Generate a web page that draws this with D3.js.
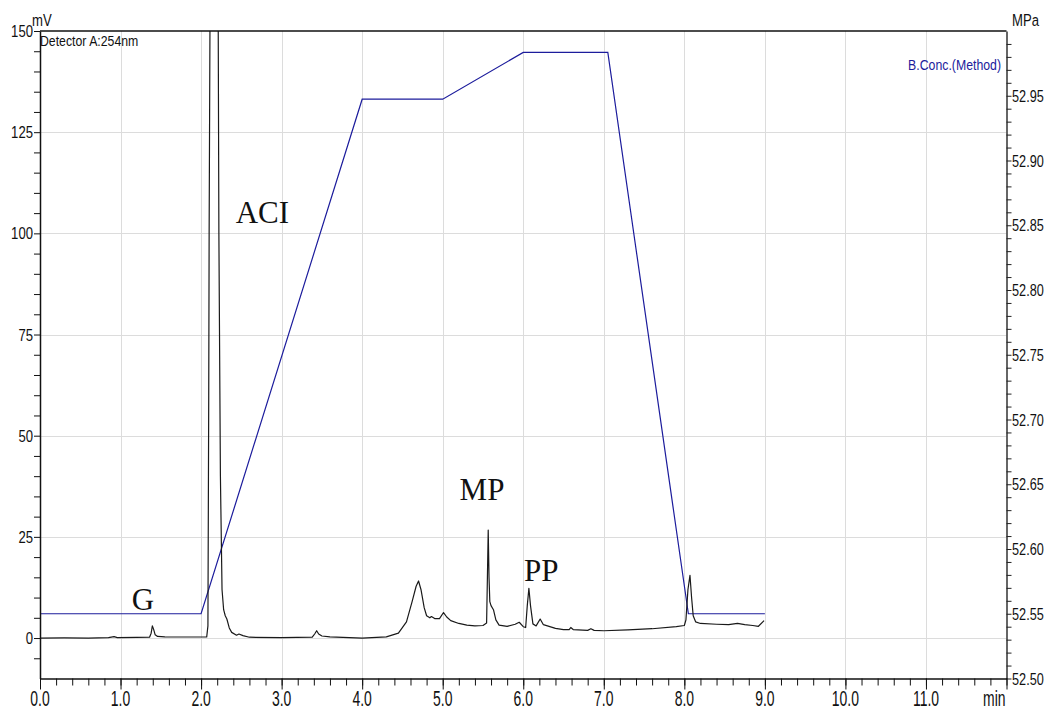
<!DOCTYPE html>
<html>
<head>
<meta charset="utf-8">
<script src="https://cdn.jsdelivr.net/npm/d3@7"></script>
<style>
html,body{margin:0;padding:0;background:#fff;}
svg{display:block;}
</style>
</head>
<body>
<svg id="chart" width="1050" height="713"></svg>
<script>
// ---- data ----
const detectorLabel = "Detector A:254nm";
const gradientLabel = "B.Conc.(Method)";
const xTickLabels = ["0.0","1.0","2.0","3.0","4.0","5.0","6.0","7.0","8.0","9.0","10.0","11.0"];
const xUnit = "min";
const yLeftTicks = [0, 25, 50, 75, 100, 125, 150];
const yLeftUnit = "mV";
const yRightTicks = [52.50, 52.55, 52.60, 52.65, 52.70, 52.75, 52.80, 52.85, 52.90, 52.95];
const yRightUnit = "MPa";

// chromatogram (time in min, signal in mV)
const chromTime = [
  0.00,0.30,0.60,0.85,0.92,0.96,1.20,1.36,1.38,1.395,1.41,1.43,1.46,1.55,1.80,2.00,
  2.07,2.085,2.095,2.10,2.11,2.13,2.16,2.19,2.213,2.221,2.24,2.26,2.28,2.30,2.32,2.35,2.38,2.44,2.47,2.52,2.60,
  3.00,3.38,3.41,3.435,3.46,3.50,3.60,4.00,4.30,4.45,4.55,4.62,4.67,4.70,4.73,4.77,4.80,4.84,4.86,4.90,4.96,
  5.01,5.05,5.10,5.20,5.30,5.40,5.50,5.545,5.555,5.565,5.575,5.585,5.60,5.63,5.66,5.70,5.80,5.90,5.95,
  6.00,6.03,6.05,6.07,6.09,6.12,6.16,6.21,6.25,6.30,6.40,6.50,6.57,6.59,6.62,6.80,6.84,6.88,
  7.00,7.30,7.60,7.90,8.00,8.02,8.045,8.07,8.09,8.11,8.14,8.20,8.40,8.55,8.66,8.75,8.85,8.92,8.99
];
const chromSignal = [
  0.0,0.05,0.0,0.1,0.35,0.1,0.15,0.2,1.2,3.0,2.2,0.8,0.4,0.3,0.25,0.25,
  0.3,3,60,100,150,400,700,400,150,100,40,12,7,5.5,4.7,2.5,1.4,0.7,1.0,0.6,0.2,
  0.1,0.2,1.0,1.8,1.0,0.5,0.3,0.0,0.3,1.2,4.0,9,12.8,14.1,12,7.5,5.5,5.0,5.3,4.8,4.8,
  6.3,5.2,4.3,3.6,3.2,3.0,3.1,3.7,15,26.7,15,9,8,7,4.5,3.2,2.9,3.4,3.9,
  2.8,2.6,8,12.3,8,3.5,3.0,4.7,3.3,3.0,2.4,2.1,2.1,2.6,2.1,1.9,2.3,1.9,
  1.8,2.0,2.3,2.8,3.1,4.5,12,15.5,10,5.5,4.0,3.6,3.4,3.3,3.6,3.3,3.1,2.9,4.3
];

// gradient program (time in min, B concentration in %)
const gradTime = [0, 2.0, 4.0, 5.0, 6.0, 7.05, 8.05, 9.0];
const gradConc = [10, 10, 92.5, 92.5, 100, 100, 10, 10];

// peak annotations
const peakNames = ["G", "ACI", "MP", "PP"];
const peakLabelTime = [1.14, 2.43, 5.21, 6.01];
const peakLabelMv = [7.0, 102.5, 34.0, 14.0];

// ---- layout ----
const L = 40, R = 1006.5, T = 31, B = 678.5;
const svg = d3.select("#chart");
const SANS = "'Liberation Sans',Arial,sans-serif";
const SERIF = "'Liberation Serif','Times New Roman',serif";

const x = d3.scaleLinear().domain([0, 12]).range([L, R]);
const y = d3.scaleLinear().domain([-10, 150]).range([B, T]);
const yR = d3.scaleLinear().domain([52.5, 53.0]).range([B, T]);
const yB = d3.scaleLinear().domain([10, 100]).range([y(6.0), y(144.7)]);

// condensed text helper
function narrowText(px, py, str, size, anchor, fill, sy) {
  return svg.append("text")
    .attr("transform", `translate(${px},${py}) scale(0.82,${sy || 1})`)
    .attr("text-anchor", anchor || "start")
    .attr("font-family", SANS).attr("font-size", size)
    .attr("fill", fill || "#111").text(str);
}

// grid
const grid = svg.append("g").attr("stroke", "#dcdcdc").attr("stroke-width", 1);
d3.range(1, 12).forEach(v => {
  grid.append("line").attr("x1", Math.round(x(v)) + 0.5).attr("x2", Math.round(x(v)) + 0.5)
    .attr("y1", T).attr("y2", B);
});
yLeftTicks.filter(v => v < 150).forEach(v => {
  grid.append("line").attr("x1", L).attr("x2", R)
    .attr("y1", Math.round(y(v)) + 0.5).attr("y2", Math.round(y(v)) + 0.5);
});

// clip
svg.append("clipPath").attr("id", "plotclip").append("rect")
  .attr("x", L).attr("y", T).attr("width", R - L).attr("height", B - T);

// gradient line
const gradData = gradTime.map((t, i) => [t, gradConc[i]]);
svg.append("path").datum(gradData)
  .attr("clip-path", "url(#plotclip)")
  .attr("fill", "none").attr("stroke", "#1c1c9c").attr("stroke-width", 1.2)
  .attr("d", d3.line().x(d => x(d[0])).y(d => yB(d[1])));

// chromatogram
const chromData = chromTime.map((t, i) => [t, chromSignal[i]]);
svg.append("path").datum(chromData)
  .attr("clip-path", "url(#plotclip)")
  .attr("fill", "none").attr("stroke", "#1a1a1a").attr("stroke-width", 1.2)
  .attr("stroke-linejoin", "round")
  .attr("d", d3.line().x(d => x(d[0])).y(d => y(d[1])));

// left axis
const leftAx = svg.append("g").attr("transform", `translate(${L},0)`)
  .call(d3.axisLeft(y).tickValues(d3.range(-5, 151, 5)).tickSize(6).tickSizeOuter(0).tickFormat(""));
leftAx.select(".domain").attr("stroke", "#111").attr("stroke-width", 1.5);
leftAx.selectAll(".tick line").attr("stroke", "#111");
yLeftTicks.forEach(v => narrowText(L - 7, y(v) + 6, String(v), 16, "end", "#111", 1.05));

// right axis
const rightAx = svg.append("g").attr("transform", `translate(${R},0)`)
  .call(d3.axisRight(yR).tickValues(d3.range(0, 50).map(i => +(52.5 + i * 0.01).toFixed(2)))
    .tickSize(5).tickSizeOuter(0).tickFormat(""));
rightAx.select(".domain").attr("stroke", "#333").attr("stroke-width", 1.5);
rightAx.selectAll(".tick line").attr("stroke", "#222");
yRightTicks.forEach(v => narrowText(R + 5.5, yR(v) + 6, v.toFixed(2), 15.5, "start", "#111", 1.05));

// bottom axis minor + major
const botMinor = svg.append("g").attr("transform", `translate(0,${B})`)
  .call(d3.axisBottom(x).tickValues(d3.range(0, 61).map(i => i * 0.2)).tickSize(7).tickSizeOuter(0).tickFormat(""));
botMinor.select(".domain").attr("stroke", "#111").attr("stroke-width", 1.5);
botMinor.selectAll(".tick line").attr("stroke", "#111");
const botMajor = svg.append("g").attr("transform", `translate(0,${B})`)
  .call(d3.axisBottom(x).tickValues(d3.range(0, 13)).tickSize(11).tickSizeOuter(0).tickFormat(""));
botMajor.select(".domain").remove();
botMajor.selectAll(".tick line").attr("stroke", "#111");

// x tick labels (tall condensed look)
xTickLabels.forEach((lab, i) => narrowText(x(i), 706, lab, 17, "middle", "#111", 1.25));
narrowText(R - 1, 706, xUnit, 17, "end", "#111", 1.25);

// top frame
svg.append("line").attr("x1", L).attr("x2", R).attr("y1", T).attr("y2", T)
  .attr("stroke", "#111").attr("stroke-width", 1.5);

// units / labels
narrowText(32, 26, yLeftUnit, 16, "start", "#111", 1.05);
narrowText(1012, 26, yRightUnit, 16, "start", "#111", 1.05);
narrowText(40, 46, detectorLabel, 15, "start", "#111", 1);
narrowText(1001, 70, gradientLabel, 15, "end", "#1c1c9c", 1);

// peak annotations
peakNames.forEach((n, i) => {
  svg.append("text").attr("x", x(peakLabelTime[i])).attr("y", y(peakLabelMv[i]))
    .attr("font-family", SERIF).attr("font-size", 31)
    .attr("fill", "#111").text(n);
});
</script>
</body>
</html>
